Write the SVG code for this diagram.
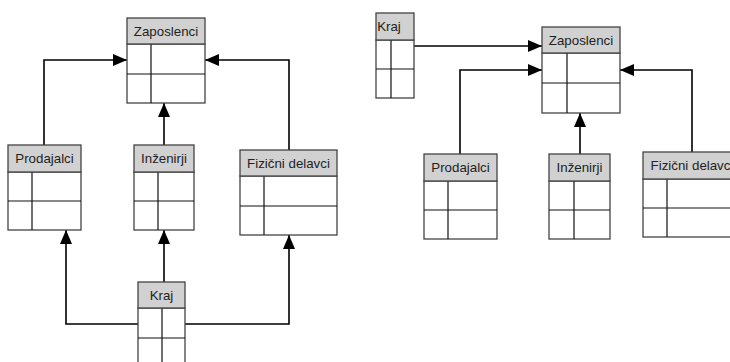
<svg xmlns="http://www.w3.org/2000/svg" width="730" height="362" viewBox="0 0 730 362">
  <style>
    .hdr { fill: #d1d1d1; stroke: #444; stroke-width: 1.3; }
    .body { fill: #fff; stroke: #444; stroke-width: 1.3; }
    .grid { stroke: #111; stroke-width: 1.2; fill: none; }
    .lbl { font-family: "Liberation Sans", Arial, sans-serif; font-size: 13.3px; fill: #222; text-anchor: middle; }
    .conn { stroke: #000; stroke-width: 1.6; fill: none; marker-end: url(#tri); }
  </style>
  <defs>
    <marker id="tri" markerUnits="userSpaceOnUse" markerWidth="14" markerHeight="12" refX="14" refY="6" orient="auto">
      <path d="M0,0 L14,6 L0,12 Z" fill="#000"/>
    </marker>
  </defs>

  <rect width="730" height="362" fill="#fff"/>

  <!-- connectors -->
  <g id="connectors">
    <!-- left diagram: subclasses to Zaposlenci -->
    <path class="conn" d="M44,145 V60 H127"/>
    <path class="conn" d="M164,145 V103"/>
    <path class="conn" d="M289,150 V60 H205"/>
    <!-- left diagram: Kraj to subclasses -->
    <path class="conn" d="M138,324 H66 V230"/>
    <path class="conn" d="M164,282 V230"/>
    <path class="conn" d="M185,324 H289 V235"/>
    <!-- right diagram -->
    <path class="conn" d="M414,46 H542"/>
    <path class="conn" d="M460,154 V70 H542"/>
    <path class="conn" d="M580,154 V113"/>
    <path class="conn" d="M692,152 V70 H620"/>
  </g>

  <!-- left diagram -->
  <g id="l-zaposlenci">
    <rect class="body" x="127" y="44" width="78" height="59"/>
    <line class="grid" x1="127" y1="74" x2="205" y2="74"/>
    <line class="grid" x1="151" y1="44" x2="151" y2="103"/>
    <rect class="hdr" x="127" y="18" width="78" height="26"/>
    <text class="lbl" x="166" y="36">Zaposlenci</text>
  </g>
  <g id="l-prodajalci">
    <rect class="body" x="8" y="172" width="73" height="58"/>
    <line class="grid" x1="8" y1="201" x2="81" y2="201"/>
    <line class="grid" x1="32" y1="172" x2="32" y2="230"/>
    <rect class="hdr" x="8" y="145" width="73" height="27"/>
    <text class="lbl" x="44.5" y="163">Prodajalci</text>
  </g>
  <g id="l-inzenirji">
    <rect class="body" x="134" y="172" width="60" height="58"/>
    <line class="grid" x1="134" y1="201" x2="194" y2="201"/>
    <line class="grid" x1="158" y1="172" x2="158" y2="230"/>
    <rect class="hdr" x="134" y="145" width="60" height="27"/>
    <text class="lbl" x="164" y="163">Inženirji</text>
  </g>
  <g id="l-fizicni">
    <rect class="body" x="240" y="176" width="97" height="59"/>
    <line class="grid" x1="240" y1="206" x2="337" y2="206"/>
    <line class="grid" x1="264" y1="176" x2="264" y2="235"/>
    <rect class="hdr" x="240" y="150" width="97" height="26"/>
    <text class="lbl" x="288.5" y="168">Fizični delavci</text>
  </g>
  <g id="l-kraj">
    <rect class="body" x="138" y="308" width="47" height="60"/>
    <line class="grid" x1="138" y1="338" x2="185" y2="338"/>
    <line class="grid" x1="162" y1="308" x2="162" y2="368"/>
    <rect class="hdr" x="138" y="282" width="47" height="26"/>
    <text class="lbl" x="161.5" y="300">Kraj</text>
  </g>

  <!-- right diagram -->
  <g id="r-kraj">
    <rect class="body" x="376" y="40" width="38" height="58"/>
    <line class="grid" x1="376" y1="69" x2="414" y2="69"/>
    <line class="grid" x1="391" y1="40" x2="391" y2="98"/>
    <rect class="hdr" x="376" y="13" width="38" height="27"/>
    <text class="lbl" x="389" y="31">Kraj</text>
  </g>
  <g id="r-zaposlenci">
    <rect class="body" x="542" y="53" width="78" height="60"/>
    <line class="grid" x1="542" y1="83" x2="620" y2="83"/>
    <line class="grid" x1="567" y1="53" x2="567" y2="113"/>
    <rect class="hdr" x="542" y="27" width="78" height="26"/>
    <text class="lbl" x="581" y="45">Zaposlenci</text>
  </g>
  <g id="r-prodajalci">
    <rect class="body" x="424" y="181" width="73" height="58"/>
    <line class="grid" x1="424" y1="210" x2="497" y2="210"/>
    <line class="grid" x1="448" y1="181" x2="448" y2="239"/>
    <rect class="hdr" x="424" y="154" width="73" height="27"/>
    <text class="lbl" x="460.5" y="172">Prodajalci</text>
  </g>
  <g id="r-inzenirji">
    <rect class="body" x="549" y="181" width="61" height="58"/>
    <line class="grid" x1="549" y1="210" x2="610" y2="210"/>
    <line class="grid" x1="574" y1="181" x2="574" y2="239"/>
    <rect class="hdr" x="549" y="154" width="61" height="27"/>
    <text class="lbl" x="579.5" y="172">Inženirji</text>
  </g>
  <g id="r-fizicni">
    <rect class="body" x="643" y="179" width="98" height="58"/>
    <line class="grid" x1="643" y1="208" x2="741" y2="208"/>
    <line class="grid" x1="667" y1="179" x2="667" y2="237"/>
    <rect class="hdr" x="643" y="152" width="98" height="27"/>
    <text class="lbl" x="692" y="170">Fizični delavci</text>
  </g>
</svg>
